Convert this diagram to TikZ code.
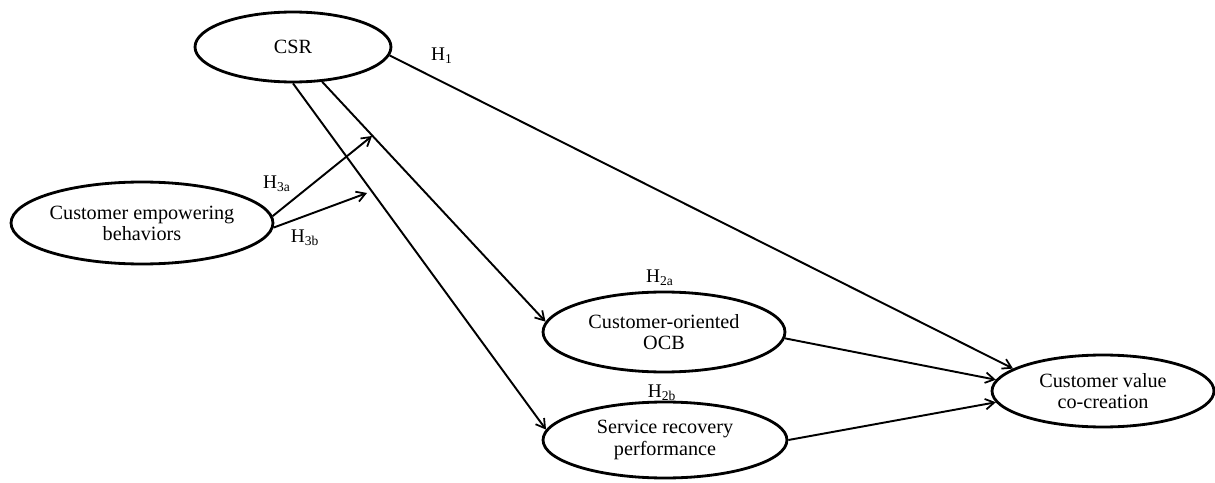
\documentclass[tikz,border=0pt]{standalone}
\usepackage{fontspec}
\setmainfont{Liberation Serif}
\usetikzlibrary{shapes.geometric,arrows.meta}
\begin{document}
\begin{tikzpicture}[x=0.02cm,y=-0.02cm,
	construct/.style={ellipse,draw,line width=1.6pt,inner sep=0pt,align=center,font=\fontsize{11.5}{12}\selectfont},
	path/.style={line width=1.1pt,-{Straight Barb[length=5pt,width=6pt,line width=1pt]}},
	hyp/.style={inner sep=0pt,font=\fontsize{11}{12}\selectfont}]
	\useasboundingbox (0,0) rectangle (1215,483);

	\node[construct,minimum width=3.92cm,minimum height=1.4cm] at (293,47) (csr) {CSR};
	\node[construct,minimum width=5.24cm,minimum height=1.64cm] at (142,223) (ceb) {Customer empowering\\behaviors};
	\node[construct,minimum width=4.84cm,minimum height=1.6cm] at (664,332) (ocb) {Customer-oriented\\OCB};
	\node[construct,minimum width=4.88cm,minimum height=1.52cm] at (665,440) (srp) {Service recovery\\performance};
	\node[construct,minimum width=4.44cm,minimum height=1.44cm] at (1103,391) (cvc) {Customer value\\co-creation};

	\coordinate (m1) at (372,136); %on csr-ocb path
	\coordinate (m2) at (367,193); %on csr-srp path

	\draw[path] (csr.-50) -- (ocb.175);
	\draw[path] (csr.south) -- (srp.175);
	\draw[path] (csr.-5) -- (cvc.166);
	\draw[path] (ocb.-3) -- (cvc.174);
	\draw[path] (srp.east) -- (cvc.186);
	\draw[path] (ceb.3) -- (m1);
	\draw[path] (ceb.-2) -- (m2);

	\node[hyp] at (442,56) (h1) {H\textsubscript{1}};
	\node[hyp] at (277,184) (h3a) {H\textsubscript{3a}};
	\node[hyp] at (305,238) (h3b) {H\textsubscript{3b}};
	\node[hyp] at (660,278) (h2a) {H\textsubscript{2a}};
	\node[hyp] at (662,393) (h2b) {H\textsubscript{2b}};
\end{tikzpicture}
\end{document}
